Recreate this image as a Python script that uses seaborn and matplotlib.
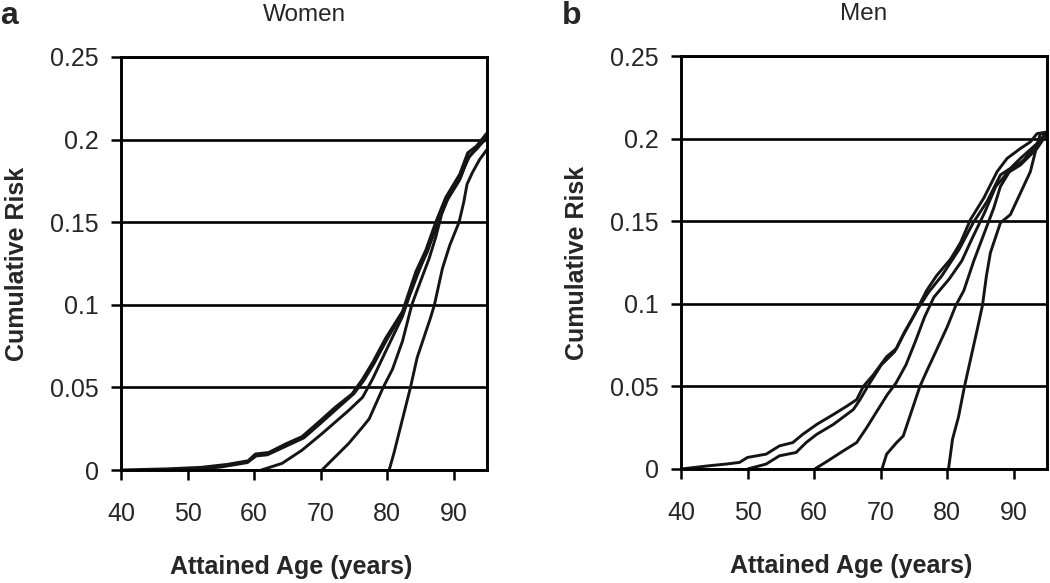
import matplotlib
matplotlib.use("Agg")
import matplotlib.pyplot as plt
import pandas as pd
import seaborn as sns

# ---------------- data ----------------
PANEL_TITLES = ["Women", "Men"]
PANEL_LETTERS = ["a", "b"]
X_LABEL = "Attained Age (years)"
Y_LABEL = "Cumulative Risk"
X_TICKS = [40, 50, 60, 70, 80, 90]
Y_TICKS = [0, 0.05, 0.1, 0.15, 0.2, 0.25]
Y_TICK_LABELS = ["0", "0.05", "0.1", "0.15", "0.2", "0.25"]

# Women: cumulative risk curves starting at ages 40, 50, 60, 70, 80
women_40_age = [40, 47, 52, 56, 59.1, 60.2, 62.2, 64.7, 67.2, 69.7, 72.2, 74.7, 76.3, 77.8,
                79.8, 82.3, 84.3, 85.8, 87.3, 88.8, 90.9, 92.1, 93.4, 95]
women_40_risk = [0, 0.0007, 0.0016, 0.0034, 0.0056, 0.0097, 0.0106, 0.0157, 0.0202, 0.029,
                 0.038, 0.046, 0.055, 0.065, 0.080, 0.096, 0.120, 0.133, 0.150, 0.165,
                 0.179, 0.192, 0.196, 0.204]
women_50_age = [50, 55, 59, 60.3, 62, 65, 67.5, 70, 72.5, 75, 76.5, 78, 80, 82.5, 84.5, 86,
                87.5, 89, 91, 92.2, 93.5, 95]
women_50_risk = [0, 0.0018, 0.0045, 0.0085, 0.0092, 0.0148, 0.0195, 0.0283, 0.0373, 0.0462,
                 0.0543, 0.0643, 0.0793, 0.0963, 0.1188, 0.1318, 0.1488, 0.1638, 0.1768,
                 0.1898, 0.1945, 0.2025]
women_60_age = [61.1, 64.2, 67.2, 70.2, 72.2, 74.2, 76.3, 77.8, 79.8, 82.3, 83.3, 85.3, 87.0,
                88.5, 90.8, 92.2, 94.0, 95]
women_60_risk = [0, 0.0040, 0.0120, 0.0220, 0.029, 0.036, 0.044, 0.055, 0.072, 0.093, 0.105,
                 0.126, 0.143, 0.160, 0.175, 0.189, 0.197, 0.201]
women_70_age = [70.2, 72.2, 74.2, 76.3, 77.3, 79.4, 80.8, 82.3, 83.7, 84.8, 86.3, 87.3, 88.2,
                89.8, 91.4, 92.4, 93.9, 95]
women_70_risk = [0, 0.008, 0.016, 0.026, 0.031, 0.050, 0.061, 0.078, 0.100, 0.112, 0.128,
                 0.141, 0.155, 0.171, 0.182, 0.190, 0.197, 0.201]
women_80_age = [80.3, 81, 82, 83, 83.5, 84.5, 85.5, 86.5, 87.1, 88.3, 89.4, 90.8, 91.5, 92,
                92.8, 93.9, 95]
women_80_risk = [0, 0.010, 0.026, 0.042, 0.050, 0.068, 0.080, 0.092, 0.100, 0.122, 0.136,
                 0.150, 0.162, 0.173, 0.180, 0.188, 0.194]

# Men: cumulative risk curves starting at ages 40, 50, 60, 70, 80
men_40_age = [40, 44.3, 46.8, 48.8, 50, 52.8, 54.8, 56.8, 58.3, 60.4, 62.9, 64.9, 66.4, 67.4,
              68.9, 70.9, 72.4, 73.4, 74.9, 76.9, 78.4, 80.5, 82, 83.5, 85.5, 87.5, 89, 91,
              92.5, 93.5, 95]
men_40_risk = [0, 0.002, 0.003, 0.004, 0.007, 0.009, 0.014, 0.016, 0.021, 0.027, 0.033,
               0.038, 0.042, 0.050, 0.057, 0.068, 0.073, 0.081, 0.092, 0.108, 0.117, 0.127,
               0.137, 0.151, 0.164, 0.180, 0.188, 0.194, 0.198, 0.203, 0.204]
men_50_age = [50, 52.8, 54.8, 57.3, 58.8, 60.4, 62.9, 65.9, 66.9, 68.2, 70.1, 72.1, 73.6,
              75.6, 77.2, 79.2, 81.8, 83.9, 86, 88, 89.5, 91, 93.5, 95]
men_50_risk = [0, 0.003, 0.008, 0.010, 0.016, 0.021, 0.027, 0.036, 0.042, 0.051, 0.063,
               0.071, 0.083, 0.097, 0.107, 0.117, 0.133, 0.149, 0.162, 0.178, 0.182, 0.188,
               0.197, 0.204]
men_60_age = [60.1, 61.9, 64.4, 66.4, 67.9, 69.6, 71.0, 72.3, 73.8, 75.2, 76.6, 78.0, 80.3,
              82.2, 83.8, 85.6, 87.3, 89, 91, 93.5, 95]
men_60_risk = [0, 0.0045, 0.011, 0.016, 0.025, 0.036, 0.045, 0.052, 0.063, 0.077, 0.092,
               0.104, 0.115, 0.126, 0.140, 0.155, 0.171, 0.179, 0.184, 0.194, 0.203]
men_70_age = [70.2, 70.9, 72.4, 73.4, 74.9, 75.9, 76.9, 78.4, 80, 81.3, 82.5, 84, 85.5, 87,
              88, 89.5, 91.5, 93.5, 95]
men_70_risk = [0, 0.009, 0.016, 0.020, 0.038, 0.050, 0.059, 0.072, 0.086, 0.099, 0.108,
               0.126, 0.142, 0.158, 0.171, 0.181, 0.187, 0.197, 0.203]
men_80_age = [80.2, 80.8, 81.7, 82.6, 83.6, 84.6, 85.3, 85.9, 86.5, 88, 89.5, 91, 92.5, 93.5,
              94, 95]
men_80_risk = [0, 0.018, 0.0315, 0.050, 0.068, 0.086, 0.099, 0.117, 0.131, 0.149, 0.154,
               0.167, 0.180, 0.196, 0.203, 0.203]

women_curves = {
    "40": (women_40_age, women_40_risk),
    "50": (women_50_age, women_50_risk),
    "60": (women_60_age, women_60_risk),
    "70": (women_70_age, women_70_risk),
    "80": (women_80_age, women_80_risk),
}
men_curves = {
    "40": (men_40_age, men_40_risk),
    "50": (men_50_age, men_50_risk),
    "60": (men_60_age, men_60_risk),
    "70": (men_70_age, men_70_risk),
    "80": (men_80_age, men_80_risk),
}


def to_frame(curves):
    rows = []
    for start, (ages, risks) in curves.items():
        for a, r in zip(ages, risks):
            rows.append({"start": start, "age": a, "risk": r})
    return pd.DataFrame(rows)


# ---------------- styling ----------------
sns.set_theme(style="white")
plt.rcParams["font.family"] = ["Liberation Sans", "DejaVu Sans"]

LINE_COLOR = "#151515"
fig = plt.figure(figsize=(10.5, 5.83), dpi=100)

axes_rects = [
    [121 / 1050, 1 - 470 / 583, 366 / 1050, 413 / 583],
    [681 / 1050, 1 - 469 / 583, 366 / 1050, 413 / 583],
]
letter_x = [0.0, 0.535]

for i, (curves, title) in enumerate(zip([women_curves, men_curves], PANEL_TITLES)):
    ax = fig.add_axes(axes_rects[i])
    df = to_frame(curves)
    sns.lineplot(data=df, x="age", y="risk", units="start", estimator=None,
                 sort=False, color=LINE_COLOR, linewidth=2.1, ax=ax, legend=False)

    ax.set_xlim(40, 95)
    ax.set_ylim(0, 0.25)
    ax.set_xticks(X_TICKS)
    ax.set_xticklabels([str(t) for t in X_TICKS])
    ax.set_yticks(Y_TICKS)
    ax.set_yticklabels(Y_TICK_LABELS)

    ax.yaxis.grid(True, color="black", linewidth=1.9)
    ax.xaxis.grid(False)
    ax.set_axisbelow(True)
    for s in ax.spines.values():
        s.set_visible(True)
        s.set_color("black")
        s.set_linewidth(2.1)

    ax.tick_params(axis="x", which="major", direction="out", length=7, width=1.8,
                   color="black", labelsize=18, pad=16, bottom=True)
    ax.tick_params(axis="y", which="major", direction="out", length=7, width=1.8,
                   color="black", labelsize=18, pad=9, left=True)

    ax.set_xlabel(X_LABEL, fontsize=18, fontweight="bold")
    ax.set_ylabel(Y_LABEL, fontsize=18, fontweight="bold")
    ax.xaxis.set_label_coords(0.464, -0.205)
    ax.yaxis.set_label_coords(-0.25, 0.5)

    ax.set_title(title, fontsize=17.5, pad=26)

    fig.text(letter_x[i], 1 - 24 / 583, PANEL_LETTERS[i], fontsize=23,
             fontweight="bold", ha="left", va="baseline")

fig.savefig("out.png", dpi=100)
